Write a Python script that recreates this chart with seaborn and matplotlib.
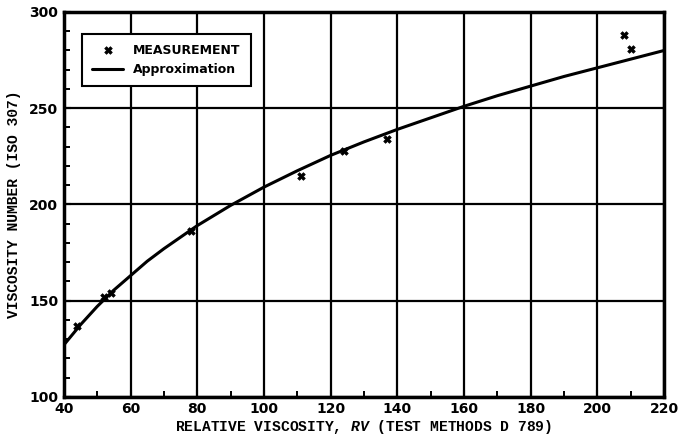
import matplotlib
matplotlib.use('Agg')
import matplotlib.pyplot as plt
import seaborn as sns
import pandas as pd
from matplotlib.ticker import MultipleLocator

# measured points
rv_meas = [44, 52, 54, 78, 111, 124, 137, 208, 210]
vn_meas = [137, 152, 154, 186, 215, 228, 234, 288, 281]

# approximation curve
rv_fit = [40, 45, 50, 55, 60, 65, 70, 80, 90, 100, 110, 120, 130, 140, 150, 160, 170, 180, 190, 200, 210, 220]
vn_fit = [127, 137.5, 147, 155.5, 163, 170.5, 177, 189, 199.5, 209, 217.5, 225.5, 232.5, 239, 245, 251, 256.5, 261.5, 266.5, 271, 275.5, 280]

x_ticks = [40, 60, 80, 100, 120, 140, 160, 180, 200, 220]
y_ticks = [100, 150, 200, 250, 300]

meas_df = pd.DataFrame({'rv': rv_meas, 'vn': vn_meas})
fit_df = pd.DataFrame({'rv': rv_fit, 'vn': vn_fit})

sns.set_style('ticks')
plt.rcParams['font.family'] = ['DejaVu Sans']
plt.rcParams['text.color'] = 'black'
plt.rcParams['axes.labelcolor'] = 'black'
plt.rcParams['xtick.color'] = 'black'
plt.rcParams['ytick.color'] = 'black'
plt.rcParams['mathtext.fontset'] = 'custom'
plt.rcParams['mathtext.it'] = 'Liberation Mono:italic:bold'

fig = plt.figure(figsize=(6.79, 4.44), dpi=100)
ax = fig.add_axes([0.094, 0.106, 0.884, 0.867])

sns.lineplot(data=fit_df, x='rv', y='vn', ax=ax, color='black', linewidth=2.2,
             label='Approximation', zorder=3)
sns.scatterplot(data=meas_df, x='rv', y='vn', ax=ax, marker='X', color='black', s=30,
                edgecolor='black', linewidth=0.5, label='MEASUREMENT', zorder=4)

ax.set_xlim(40, 220)
ax.set_ylim(100, 300)
ax.set_xticks(x_ticks)
ax.set_yticks(y_ticks)
ax.xaxis.set_minor_locator(MultipleLocator(10))
ax.yaxis.set_minor_locator(MultipleLocator(10))
ax.grid(True, which='major', color='black', linewidth=1.6)
ax.tick_params(which='both', bottom=True, left=True, top=False, right=False)
ax.tick_params(which='major', direction='in', length=5, width=1.5, labelsize=10)
ax.tick_params(which='minor', direction='in', length=4, width=1.4)
ax.tick_params(axis='both', pad=4)
for lab in ax.get_xticklabels() + ax.get_yticklabels():
    lab.set_fontweight('bold')
for sp in ax.spines.values():
    sp.set_visible(True)
    sp.set_color('black')
    sp.set_linewidth(2.5)

mono = 'Liberation Mono'
ax.set_xlabel('RELATIVE VISCOSITY, $\\it{RV}$ (TEST METHODS D 789)', fontfamily=mono,
              fontweight='bold', fontsize=10.5, labelpad=1)
ax.set_ylabel('VISCOSITY NUMBER (ISO 307)', fontfamily=mono, fontweight='bold',
              fontsize=10.5, labelpad=6)

handles, labels = ax.get_legend_handles_labels()
order = [labels.index('MEASUREMENT'), labels.index('Approximation')]
leg = ax.legend([handles[i] for i in order], [labels[i] for i in order],
                loc='upper left', bbox_to_anchor=(0.02, 0.96), fancybox=False,
                framealpha=1, edgecolor='black', handlelength=2.5,
                borderpad=0.8, prop={'weight': 'bold', 'size': 9})
leg.get_frame().set_linewidth(1.5)

fig.savefig('out.png', dpi=100)
